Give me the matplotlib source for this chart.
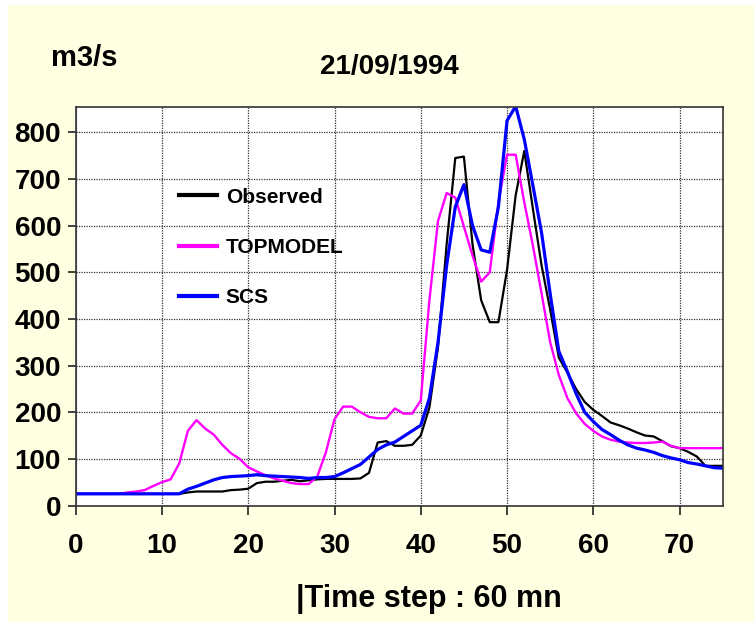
"""Flood hydrograph 21/09/1994: observed vs TOPMODEL vs SCS."""

import numpy as np
import matplotlib
matplotlib.use("Agg")
import matplotlib.pyplot as plt
from matplotlib.patches import Rectangle

plt.rcParams["font.family"] = ["Liberation Sans Narrow", "Liberation Sans", "DejaVu Sans"]
plt.rcParams["font.weight"] = "bold"

time_steps = np.arange(0, 76)

observed = [
    25, 25, 25, 25, 25, 25, 25, 25, 25, 25,      # 0-9
    25, 25, 25, 28, 30, 30, 30, 30, 33, 34,      # 10-19
    36, 48, 51, 51, 53, 55, 52, 54, 56, 57,      # 20-29
    57, 57, 57, 58, 70, 135, 138, 128, 128, 130,  # 30-39
    150, 210, 340, 560, 745, 748, 560, 440, 393, 393,  # 40-49
    505, 665, 760, 636, 515, 420, 317, 285, 250, 222,  # 50-59
    205, 192, 178, 172, 165, 157, 150, 148, 138, 127,  # 60-69
    123, 115, 105, 85, 85, 85,                    # 70-75
]

topmodel = [
    25, 25, 25, 25, 25, 25, 28, 30, 33, 42,      # 0-9
    50, 56, 90, 160, 183, 165, 152, 130, 112, 100,  # 10-19
    82, 73, 65, 58, 53, 48, 46, 46, 62, 114,     # 20-29
    185, 212, 212, 200, 190, 187, 187, 208, 197, 197,  # 30-39
    225, 440, 610, 670, 660, 598, 536, 480, 500, 650,  # 40-49
    752, 752, 650, 557, 455, 350, 280, 230, 198, 175,  # 50-59
    160, 148, 141, 137, 135, 134, 134, 135, 137, 128,  # 60-69
    123, 123, 123, 123, 123, 123,                 # 70-75
]

scs = [
    25, 25, 25, 25, 25, 25, 25, 25, 25, 25,      # 0-9
    25, 25, 25, 35, 41, 48, 55, 60, 62, 63,      # 10-19
    64, 66, 64, 63, 62, 61, 60, 58, 60, 60,      # 20-29
    62, 70, 79, 88, 104, 120, 130, 136, 148, 160,  # 30-39
    172, 230, 350, 515, 640, 688, 600, 548, 543, 640,  # 40-49
    825, 856, 785, 686, 585, 454, 331, 287, 240, 200,  # 50-59
    180, 163, 152, 140, 130, 123, 119, 114, 107, 102,  # 60-69
    98, 92, 89, 85, 81, 80,                       # 70-75
]

series_names = ["Observed", "TOPMODEL", "SCS"]

W, H = 754, 622
fig = plt.figure(figsize=(W / 100, H / 100), dpi=100, facecolor="white")
# cream backdrop with a thin white margin on the left and top
fig.patches.append(Rectangle((8 / W, 0), 1, 1 - 5 / H, transform=fig.transFigure,
                             facecolor="#FFFFE1", edgecolor="none", zorder=-10))

ax = fig.add_axes([75.7 / W, 1 - 505.5 / H, 647 / W, 398.8 / H])
ax.set_facecolor("white")

ax.plot(time_steps, observed, color="black", linewidth=1.6, label=series_names[0])
ax.plot(time_steps, topmodel, color="#FF00FF", linewidth=1.7, label=series_names[1])
ax.plot(time_steps, scs, color="#0000FF", linewidth=2.3, label=series_names[2])

ax.set_xlim(0, 75)
ax.set_ylim(0, 855)
ax.set_xticks(np.arange(0, 71, 10))
ax.set_yticks(np.arange(0, 801, 100))
ax.grid(True, color="#333333", linestyle=(0, (1, 1)), linewidth=0.9)
ax.set_axisbelow(True)

for side in ["left", "bottom", "top", "right"]:
    ax.spines[side].set_color("#333333")
    ax.spines[side].set_linewidth(1.2)

ax.tick_params(axis="y", direction="out", length=6, width=1.2, pad=4.5,
               labelsize=20, colors="#222222", labelcolor="black")
ax.tick_params(axis="x", direction="out", length=6.5, width=1.2, pad=13,
               labelsize=20, colors="#222222", labelcolor="black")
for lbl in ax.get_xticklabels() + ax.get_yticklabels():
    lbl.set_fontweight("bold")

leg = ax.legend(loc="upper left", bbox_to_anchor=(0.1597, 0.797), frameon=False,
                fontsize=15, handlelength=1.8, handletextpad=0.45,
                labelspacing=1.5, borderpad=0, borderaxespad=0)
for line in leg.get_lines():
    line.set_linewidth(3.0)
for txt in leg.get_texts():
    txt.set_fontweight("bold")

fig.text(84 / W, 1 - 58 / H, "m3/s", ha="center", va="center",
         fontsize=21, fontweight="bold")
fig.text(389 / W, 1 - 67 / H, "21/09/1994", ha="center", va="center",
         fontsize=20, fontweight="bold")
fig.text(296 / W, 1 - 607 / H, "|Time step : 60 mn", ha="left", va="baseline",
         fontsize=22, fontweight="bold")

fig.savefig("out.png", dpi=100, facecolor=fig.get_facecolor())
